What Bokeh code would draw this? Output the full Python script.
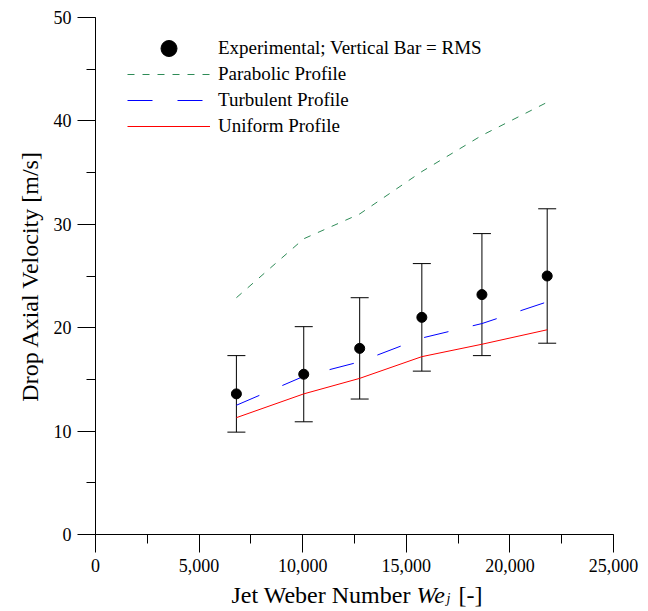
from bokeh.plotting import figure
from bokeh.layouts import column
from bokeh.models import (Range1d, ColumnDataSource, Whisker, TeeHead, Legend, LegendItem,
                          NumeralTickFormatter, Label, FixedTicker)
from bokeh.embed import file_html
from bokeh.resources import INLINE

# ---- data ----
weber = [6800, 10050, 12750, 15750, 18650, 21800]
exp_velocity = [13.6, 15.5, 18.0, 21.0, 23.2, 25.0]
rms_upper = [17.3, 20.1, 22.9, 26.2, 29.1, 31.5]
rms_lower = [9.9, 10.9, 13.1, 15.8, 17.3, 18.5]
parabolic = [22.9, 28.6, 31.0, 35.1, 38.6, 41.8]
turbulent = [12.5, 15.3, 16.7, 19.0, 20.4, 22.5]
uniform = [11.3, 13.6, 15.1, 17.2, 18.4, 19.8]

x_ticks = [0, 5000, 10000, 15000, 20000, 25000]
y_ticks = [0, 10, 20, 30, 40, 50]

FONT = "Liberation Serif"

p = figure(width=648, height=578, output_backend="svg", toolbar_location=None,
           x_range=Range1d(0, 25000), y_range=Range1d(0, 50),
           min_border_left=95, min_border_right=35, min_border_top=17, min_border_bottom=44)
p.outline_line_color = None
p.grid.visible = False
p.background_fill_color = "white"
p.border_fill_color = "white"

src = ColumnDataSource(dict(x=weber, y=exp_velocity, up=rms_upper, lo=rms_lower,
                            par=parabolic, tur=turbulent, uni=uniform))

r_par = p.line("x", "par", source=src, line_color="#2E8B57", line_width=1, line_dash="7 8")
r_tur = p.line("x", "tur", source=src, line_color="#0000FF", line_width=1, line_dash="25 25")
r_uni = p.line("x", "uni", source=src, line_color="#FF0000", line_width=1)

wh = Whisker(source=src, base="x", upper="up", lower="lo", line_color="black", line_width=1,
             upper_head=TeeHead(size=18, line_color="black", line_width=1),
             lower_head=TeeHead(size=18, line_color="black", line_width=1))
p.add_layout(wh)

r_exp = p.scatter("x", "y", source=src, size=10, fill_color="black", line_color="black")

# axes
for ax in (p.xaxis[0], p.yaxis[0]):
    ax.axis_line_color = "black"
    ax.major_tick_line_color = "black"
    ax.minor_tick_line_color = "black"
    ax.major_tick_out = 18
    ax.major_tick_in = 0
    ax.minor_tick_out = 9
    ax.minor_tick_in = 0
    ax.major_label_text_font = FONT
    ax.major_label_text_font_size = "18px"
    ax.major_label_text_color = "black"
    ax.major_label_standoff = 6
    ax.axis_label_text_font = FONT
    ax.axis_label_text_font_size = "24px"
    ax.axis_label_text_font_style = "normal"
    ax.axis_label_text_color = "black"

p.xaxis[0].ticker = FixedTicker(ticks=x_ticks, minor_ticks=[2500 * i for i in range(11)])
p.yaxis[0].ticker = FixedTicker(ticks=y_ticks, minor_ticks=[5 * i for i in range(11)])
p.xaxis[0].formatter = NumeralTickFormatter(format="0,0")
p.yaxis[0].axis_label = "Drop Axial Velocity [m/s]"
p.yaxis[0].axis_label_standoff = 8

# main legend (all entries, one box)
legend = Legend(items=[
    LegendItem(label="Experimental; Vertical Bar = RMS", renderers=[r_exp]),
    LegendItem(label="Parabolic Profile", renderers=[r_par]),
    LegendItem(label="Turbulent Profile", renderers=[r_tur]),
    LegendItem(label="Uniform Profile", renderers=[r_uni]),
], location=(32, 395))
legend.glyph_height = 26
legend.glyph_width = 83
legend.spacing = 0
legend.label_standoff = 8
legend.padding = 0
legend.margin = 0
legend.border_line_color = None
legend.background_fill_alpha = 0
legend.label_text_font = FONT
legend.label_text_font_size = "19px"
legend.label_text_color = "black"
p.add_layout(legend)

# overlay key drawing the larger marker of the first entry
dot_key = Legend(items=[LegendItem(label=" ", renderers=[r_exp])], location=(32, 466))
dot_key.glyph_height = 40
dot_key.glyph_width = 83
dot_key.spacing = 0
dot_key.label_standoff = 0
dot_key.padding = 0
dot_key.margin = 0
dot_key.border_line_color = None
dot_key.background_fill_alpha = 0
dot_key.label_text_font_size = "19px"
p.add_layout(dot_key)

# x-axis title strip (mixed upright / italic text with subscript);
# its frame is aligned with the main frame (page px 95..613)
q = figure(width=648, height=33, output_backend="svg", toolbar_location=None,
           x_range=Range1d(95, 613), y_range=Range1d(0, 33),
           min_border_left=95, min_border_right=35, min_border_top=0, min_border_bottom=0)
q.axis.visible = False
q.grid.visible = False
q.outline_line_color = None
q.background_fill_color = "white"
q.border_fill_color = "white"

base_y = 17
q.add_layout(Label(x=231, y=base_y, text="Jet Weber Number", text_align="left",
                   text_baseline="alphabetic", text_font=FONT, text_font_size="24px",
                   text_color="black"))
q.add_layout(Label(x=416, y=base_y, text="We", text_align="left", text_font_style="italic",
                   text_baseline="alphabetic", text_font=FONT, text_font_size="24px",
                   text_color="black"))
q.add_layout(Label(x=446, y=base_y - 4, text="j", text_align="left", text_font_style="italic",
                   text_baseline="alphabetic", text_font=FONT, text_font_size="14px",
                   text_color="black"))
q.add_layout(Label(x=458, y=base_y, text="[-]", text_align="left",
                   text_baseline="alphabetic", text_font=FONT, text_font_size="24px",
                   text_color="black"))

layout = column(p, q, spacing=0)
open("out.html", "w").write(file_html(layout, INLINE))
